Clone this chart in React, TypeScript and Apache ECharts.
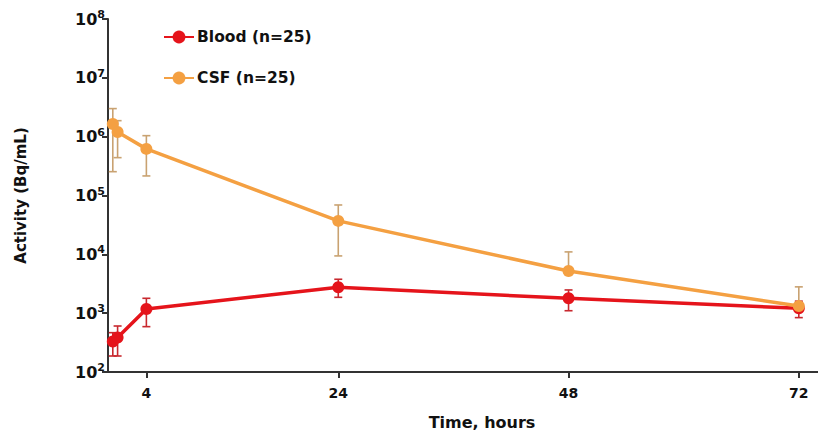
import React, { useEffect, useRef } from "react";
import * as echarts from "echarts";

const timeHours = [0.5, 1, 4, 24, 48, 72];
const xTickValues = [4, 24, 48, 72];
const yTickExponents = [2, 3, 4, 5, 6, 7, 8];

const bloodName = "Blood (n=25)";
const bloodMean = [330, 385, 1180, 2750, 1790, 1210];
const bloodLow = [187, 187, 590, 1860, 1100, 840];
const bloodHigh = [466, 605, 1790, 3770, 2480, 1600];

const csfName = "CSF (n=25)";
const csfMean = [1640000, 1200000, 620000, 37000, 5200, 1320];
const csfLow = [254000, 440000, 215000, 9400, 5200, 1320];
const csfHigh = [3000000, 1870000, 1040000, 69000, 11000, 2800];

const FONT = "'DejaVu Sans', 'Liberation Sans', Arial, sans-serif";

function errorSeries(name: string, low: number[], high: number[], color: string) {
  const data = timeHours.map((t, i) => [t, low[i], high[i]]);
  return {
    type: "custom",
    name: name + "-err",
    z: 1,
    silent: true,
    data,
    renderItem: (params: any, api: any) => {
      const x = api.value(0);
      const lo = api.coord([x, api.value(1)]);
      const hi = api.coord([x, api.value(2)]);
      const cap = 4;
      const style = { stroke: color, lineWidth: 1.6 };
      return {
        type: "group",
        children: [
          { type: "line", shape: { x1: lo[0], y1: lo[1], x2: hi[0], y2: hi[1] }, style },
          { type: "line", shape: { x1: hi[0] - cap, y1: hi[1], x2: hi[0] + cap, y2: hi[1] }, style },
          { type: "line", shape: { x1: lo[0] - cap, y1: lo[1], x2: lo[0] + cap, y2: lo[1] }, style },
        ],
      };
    },
  };
}

export default function App() {
  const ref = useRef<HTMLDivElement>(null);
  useEffect(() => {
    if (!ref.current) return;
    const chart = echarts.init(ref.current, undefined, { renderer: "svg" });
    chart.setOption({
      animation: false,
      backgroundColor: "#ffffff",
      textStyle: { fontFamily: FONT },
      grid: { left: 108, right: 0, top: 19, bottom: 59, containLabel: false, outerBoundsMode: "none" },
      legend: {
        data: [bloodName, csfName],
        orient: "vertical",
        left: 158,
        top: 24,
        itemGap: 25,
        itemWidth: 30,
        itemHeight: 16,
        textStyle: { fontFamily: FONT, fontWeight: "bold", fontSize: 15.5, color: "#111", padding: [0, 0, 0, -2] },
      },
      xAxis: {
        type: "value",
        min: 0,
        max: 74,
        name: "Time, hours",
        nameLocation: "middle",
        nameGap: 42,
        nameTextStyle: {
          fontFamily: FONT,
          fontWeight: "bold",
          fontSize: 16,
          color: "#111",
          padding: [0, 0, 0, 38],
        },
        axisLine: { show: true, lineStyle: { color: "#333", width: 2 } },
        axisTick: { show: true, customValues: xTickValues, length: 6, lineStyle: { color: "#333", width: 2 } },
        axisLabel: {
          customValues: xTickValues,
          margin: 14,
          fontFamily: FONT,
          fontWeight: "bold",
          fontSize: 14,
          color: "#111",
        },
        splitLine: { show: false },
      },
      yAxis: {
        type: "log",
        logBase: 10,
        min: 100,
        max: 100000000,
        name: "Activity (Bq/mL)",
        nameLocation: "middle",
        nameGap: 80,
        nameTextStyle: { fontFamily: FONT, fontWeight: "bold", fontSize: 15, color: "#111" },
        axisLine: { show: true, lineStyle: { color: "#333", width: 2 } },
        axisTick: { show: true, length: 6, lineStyle: { color: "#333", width: 2 } },
        axisLabel: {
          margin: 3,
          color: "#111",
          formatter: (v: number) => {
            const e = Math.round(Math.log10(v));
            return yTickExponents.includes(e) ? `{b|10}{s|${e}}` : "";
          },
          rich: {
            b: { fontFamily: FONT, fontWeight: "bold", fontSize: 16, color: "#111" },
            s: { fontFamily: FONT, fontWeight: "bold", fontSize: 11, color: "#111", padding: [0, 0, 9, 0] },
          },
        },
        splitLine: { show: false },
      },
      series: [
        errorSeries(bloodName, bloodLow, bloodHigh, "#c8282e"),
        errorSeries(csfName, csfLow, csfHigh, "#c9a271"),
        {
          type: "line",
          name: bloodName,
          z: 3,
          data: timeHours.map((t, i) => [t, bloodMean[i]]),
          symbol: "circle",
          symbolSize: 12,
          lineStyle: { color: "#e5141b", width: 3.5 },
          itemStyle: { color: "#e5141b" },
        },
        {
          type: "line",
          name: csfName,
          z: 4,
          data: timeHours.map((t, i) => [t, csfMean[i]]),
          symbol: "circle",
          symbolSize: 12,
          lineStyle: { color: "#f4a042", width: 3.5 },
          itemStyle: { color: "#f4a042" },
        },
      ],
    });
    return () => chart.dispose();
  }, []);
  return <div ref={ref} style={{ width: 818, height: 431, position: "absolute", left: 0, top: 0 }} />;
}
